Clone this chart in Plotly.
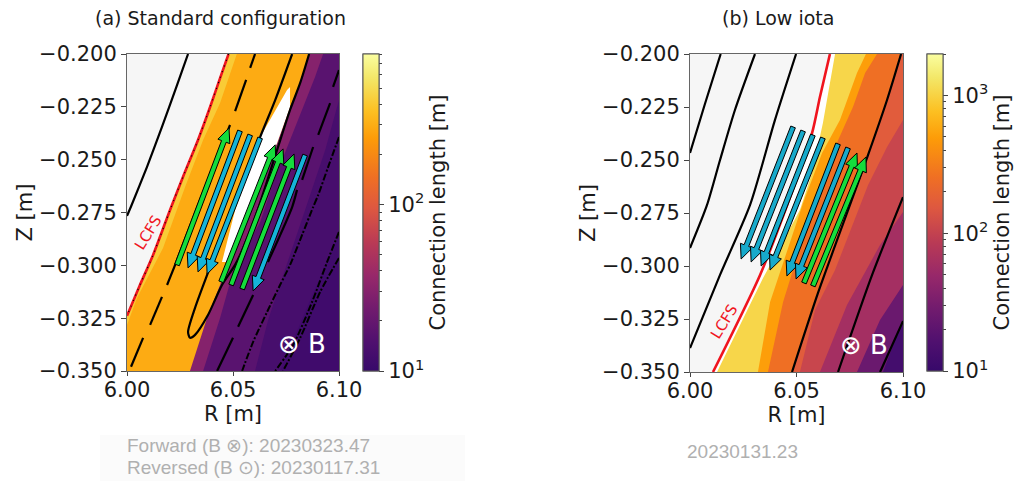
import math
import plotly.graph_objects as go
from plotly.colors import sample_colorscale

W, H = 1016, 481
FONT = "DejaVu Sans"

# ---------- shared axis data ----------
R_TICKS = [6.00, 6.05, 6.10]
R_LABELS = ["6.00", "6.05", "6.10"]
Z_TICKS = [-0.200, -0.225, -0.250, -0.275, -0.300, -0.325, -0.350]
Z_LABELS = ["\u22120.200", "\u22120.225", "\u22120.250", "\u22120.275", "\u22120.300", "\u22120.325", "\u22120.350"]
R_RANGE = [6.0, 6.1]
Z_RANGE = [-0.35, -0.2]
SCALE = [[0, "#37096a"], [.09, "#4f106f"], [.195, "#711b6e"], [.30, "#97286a"], [.405, "#b93a55"], [.515, "#de5840"],
         [.61, "#ef6f24"], [.735, "#fd9c08"], [.82, "#fcc022"], [.925, "#f3e768"], [1, "#fafea0"]]

# ---------- panel (a): connection length bands, value in metres and right-hand edge (R, Z) ----------
A_VMAX = 800
A_BASE = 11.5
A_BANDS = [
    (13, [(6.1, -.2856), (6.0864, -.3164), (6.0722, -.35)]),
    (17, [(6.1, -.2218), (6.0935, -.2454), (6.0840, -.2738), (6.0746, -.3022), (6.0666, -.3258), (6.0604, -.35)]),
    (30, [(6.0925, -.2), (6.0887, -.2109), (6.0831, -.2251), (6.0769, -.2407), (6.0694, -.2596), (6.0628, -.2795),
          (6.0500, -.3031), (6.0439, -.3249), (6.0359, -.35)]),
    (292, [(6.0859, -.2), (6.0817, -.2137), (6.0769, -.2251), (6.0708, -.2421), (6.0642, -.2563), (6.0571, -.2738),
           (6.0519, -.2870), (6.0472, -.2984), (6.0439, -.3093), (6.0382, -.3235), (6.0297, -.35)]),
    (415, [(6.0518, -.2), (6.0439, -.2232), (6.0359, -.2407), (6.0274, -.2629), (6.0170, -.2918), (6.0047, -.3154),
           (6.0, -.3282)]),
]
A_LCFS = [(6.0479, -.2), (6.0439, -.2114), (6.0392, -.2251), (6.0335, -.2407), (6.0264, -.2582), (6.0203, -.2738),
          (6.0123, -.2951), (6.0061, -.3093), (6.0, -.3239)]
A_SLIVER = [(6.0769, -.2156), (6.0769, -.2251), (6.0708, -.2421), (6.0642, -.2563), (6.0571, -.2738), (6.0519, -.2870),
            (6.0472, -.2984), (6.0448, -.2984), (6.0510, -.2738), (6.0628, -.2393), (6.0708, -.2251), (6.0755, -.2170)]
A_SOLID = [
    [(6.0288, -.2), (6.0236, -.2147), (6.0165, -.2345), (6.0094, -.2535), (6.0018, -.2724), (6.0, -.2766)],
    [(6.0779, -.2), (6.0699, -.2218), (6.0628, -.2393), (6.0533, -.2643), (6.0439, -.2880), (6.0378, -.3045),
     (6.0321, -.3201), (6.0288, -.3315), (6.0297, -.3343), (6.0321, -.3329), (6.0382, -.3235), (6.0448, -.3093),
     (6.0510, -.2998), (6.0548, -.2918), (6.0604, -.2776), (6.0708, -.2454), (6.0769, -.2265), (6.0817, -.2137),
     (6.0859, -.2)],
]
A_BROKEN = [
    [(6.0604, -.2), (6.0581, -.2066), None, (6.0562, -.2123), (6.0510, -.2270), None, (6.0486, -.2336), (6.0354, -.2667),
     (6.0227, -.2998), (6.0189, -.3093), None, (6.0165, -.3149), (6.0109, -.3282), None, (6.0076, -.3343), (6.0019, -.3480)],
    [(6.1, -.2076), (6.0972, -.2156), None, (6.0958, -.2232), (6.0902, -.2383), None, (6.0878, -.2440), (6.0826, -.2596),
     None, (6.0802, -.2643), (6.0779, -.2724), (6.0665, -.2984), None, (6.0595, -.3140), (6.0524, -.3291), None,
     (6.0500, -.3343), (6.0425, -.35)],
]
A_DOTTED = [
    [(6.1, -.2393), (6.0949, -.2534), (6.0902, -.2667), (6.0878, -.2724), (6.0826, -.2856), (6.0769, -.2998),
     (6.0722, -.3093), (6.0661, -.3220), (6.0595, -.3362), (6.0543, -.35)],
    [(6.1, -.2842), (6.0944, -.2984), (6.0873, -.3173), (6.0784, -.3376), (6.0699, -.35)],
    [(6.1, -.2965), (6.0911, -.3126), (6.0817, -.3343), (6.0736, -.35)],
]
A_GREEN = [((6.0236, -.2998), (6.0481, -.2350)), ((6.0444, -.3078), (6.0699, -.2430)),
           ((6.0491, -.3093), (6.0736, -.2449)), ((6.0543, -.3112), (6.0788, -.2473))]
A_CYAN = [((6.0533, -.2364), (6.0288, -.3012)), ((6.0581, -.2383), (6.0335, -.3031)),
          ((6.0628, -.2397), (6.0378, -.3041)), ((6.0840, -.2478), (6.0595, -.3121))]

# ---------- panel (b) ----------
B_VMAX = 2000
B_BASE = 13
B_BANDS = [
    (25, [(6.1, -.3255), (6.0962, -.3349), (6.0906, -.35)]),
    (61, [(6.1, -.3090), (6.0892, -.3255), (6.0784, -.35)]),
    (108, [(6.1, -.2745), (6.0892, -.2901), (6.0737, -.3184), (6.0610, -.35)]),
    (166, [(6.1, -.2311), (6.0925, -.2439), (6.0836, -.2618), (6.0681, -.3019), (6.0587, -.3208), (6.0516, -.35)]),
    (254, [(6.0991, -.2), (6.0925, -.2217), (6.0836, -.2476), (6.0751, -.2712), (6.0601, -.3127), (6.0479, -.35)]),
    (505, [(6.0878, -.2), (6.0822, -.2090), (6.0765, -.2250), (6.0681, -.2439), (6.0610, -.2608), (6.0484, -.3009),
           (6.0437, -.3170), (6.0366, -.35)]),
    (1058, [(6.0826, -.2), (6.0784, -.2090), (6.0704, -.2311), (6.0620, -.2467), (6.0531, -.2703), (6.0432, -.2995),
            (6.0376, -.3170), (6.0319, -.35)]),
]
B_YELLOW_LEFT = [(6.0681, -.2), (6.0624, -.2325), (6.0573, -.2561), (6.0516, -.2736), (6.0343, -.3057), (6.0127, -.35)]
B_LCFS = [(6.0657, -.2), (6.0610, -.2203), (6.0573, -.2373), (6.0470, -.2675), (6.0329, -.3042), (6.0108, -.35)]
B_SOLID = [
    [(6.0144, -.2), (6.0070, -.2236), (6.0, -.2467)],
    [(6.0305, -.2), (6.0211, -.2264), (6.0141, -.25), (6.0080, -.2712), (6.0, -.2915)],
    [(6.0498, -.2), (6.0399, -.2311), (6.0282, -.2712), (6.0141, -.3042), (6.0, -.3387)],
    [(6.0991, -.2), (6.0925, -.2217), (6.0836, -.2476), (6.0751, -.2712), (6.0601, -.3127), (6.0479, -.35)],
    [(6.1, -.2675), (6.0855, -.3042), (6.0695, -.35)],
    [(6.1, -.3260), (6.0901, -.3481), (6.0892, -.35)],
]
B_CYAN = [((6.0484, -.2344), (6.0240, -.2967)), ((6.0531, -.2363), (6.0287, -.2981)),
          ((6.0577, -.2382), (6.0334, -.3000)), ((6.0624, -.2396), (6.0376, -.3019)),
          ((6.0695, -.2424), (6.0455, -.3047)), ((6.0742, -.2443), (6.0498, -.3061))]
B_GREEN = [((6.0535, -.3080), (6.0784, -.2467)), ((6.0577, -.3094), (6.0826, -.2486))]

GREEN, CYAN_A, CYAN_B, GRAY_IN, RED = "#15dd3c", "#15b4d8", "#17aacb", "#f6f6f6", "#f0141e"
FOOT_A1 = "Forward (B \u2297): 20230323.47"
FOOT_A2 = "Reversed (B \u2299): 20230117.31"
FOOT_B = "20230131.23"
CB_MAJOR_A = [10, 100]
CB_MINOR_A = [20, 30, 40, 50, 60, 70, 80, 90, 200, 300, 400, 500, 600, 700, 800]
CB_MAJOR_B = [10, 100, 1000]
CB_MINOR_B = [20, 30, 40, 50, 60, 70, 80, 90, 200, 300, 400, 500, 600, 700, 800, 900, 2000]
CB_LABELS = {10: "10<sup>1</sup>", 100: "10<sup>2</sup>", 1000: "10<sup>3</sup>"}

fig = go.Figure()


def colour(v, vmax):
    return sample_colorscale(SCALE, [math.log(v / 10) / math.log(vmax / 10)])[0]


def split(points):
    return [p[0] if p else None for p in points], [p[1] if p else None for p in points]


def region(edge, fill, ax):
    pts = list(edge)
    if pts[0][1] < -0.2:
        pts.insert(0, (6.1, -0.2))
    if pts[-1][0] == 6.1:
        pts.append((6.1, -0.35))
    pts += [(6.0, -0.35), (6.0, -0.2)]
    x, y = split(pts)
    fig.add_trace(go.Scatter(x=x, y=y, mode="lines", fill="toself", fillcolor=fill, line=dict(width=0, color=fill),
                             hoverinfo="skip", showlegend=False, xaxis="x" + ax, yaxis="y" + ax))


def curve(points, ax, color="black", width=2.2, dash="solid"):
    x, y = split(points)
    fig.add_trace(go.Scatter(x=x, y=y, mode="lines", line=dict(color=color, width=width, dash=dash, shape="spline", smoothing=0.7),
                             hoverinfo="skip", showlegend=False, xaxis="x" + ax, yaxis="y" + ax))


def arrow(tail, tip, fill, ax):
    dx, dy = tip[0] - tail[0], tip[1] - tail[1]
    n = math.hypot(dx, dy)
    ux, uy = dx / n, dy / n
    px, py = -uy, ux
    hl, hw, sw = 0.0068, 0.0030, 0.00115
    bx, by = tip[0] - ux * hl, tip[1] - uy * hl
    pts = [(tail[0] + px * sw, tail[1] + py * sw), (bx + px * sw, by + py * sw), (bx + px * hw, by + py * hw), tip,
           (bx - px * hw, by - py * hw), (bx - px * sw, by - py * sw), (tail[0] - px * sw, tail[1] - py * sw),
           (tail[0] + px * sw, tail[1] + py * sw)]
    x, y = split(pts)
    fig.add_trace(go.Scatter(x=x, y=y, mode="lines", fill="toself", fillcolor=fill, line=dict(color="black", width=1),
                             hoverinfo="skip", showlegend=False, xaxis="x" + ax, yaxis="y" + ax))


def colourbar(ax, vmax, major, minor, px):
    bar = dict(x=px / W, xanchor="left", xpad=0, y=1 - 212.5 / H, yanchor="middle", ypad=0, lenmode="pixels", len=317,
               thicknessmode="pixels", thickness=16, outlinecolor="#555", outlinewidth=1, ticks="outside", tickwidth=1,
               tickcolor="#444", tickmode="array", tickfont=dict(family=FONT, size=21, color="#1a1a1a"))
    marker = dict(size=1, opacity=0, color=[math.log10(vmax)], cmin=1, cmax=math.log10(vmax), colorscale=SCALE,
                  showscale=True)
    fig.add_trace(go.Scatter(
        x=[6.05], y=[-0.3], mode="markers", hoverinfo="skip", showlegend=False, xaxis="x" + ax, yaxis="y" + ax,
        marker=dict(marker, colorbar=dict(bar, ticklen=5, tickvals=[math.log10(t) for t in major],
                                          ticktext=[CB_LABELS[t] for t in major],
                                          title=dict(text="Connection length [m]", side="right",
                                                     font=dict(family=FONT, size=21, color="#1a1a1a"))))))
    fig.add_trace(go.Scatter(
        x=[6.05], y=[-0.3], mode="markers", hoverinfo="skip", showlegend=False, xaxis="x" + ax, yaxis="y" + ax,
        marker=dict(marker, colorbar=dict(bar, ticklen=3, tickvals=[math.log10(t) for t in minor],
                                          showticklabels=False))))


# panel (a)
region([(6.1, -.2), (6.1, -.35)], colour(A_BASE, A_VMAX), "")
for v, e in A_BANDS:
    region(e, colour(v, A_VMAX), "")
region(A_LCFS, GRAY_IN, "")
sx, sy = split(A_SLIVER + A_SLIVER[:1])
fig.add_trace(go.Scatter(x=sx, y=sy, mode="lines", fill="toself", fillcolor="white", line=dict(width=0, color="white"),
                         hoverinfo="skip", showlegend=False, xaxis="x", yaxis="y"))
for c in A_SOLID + A_BROKEN:
    curve(c, "")
for c in A_DOTTED:
    curve(c, "", width=2, dash="7px,2px,2px,2px")
curve(A_LCFS, "", color=RED, width=2.6)
curve(A_LCFS, "", color="black", width=1.2, dash="1px,5px")
for t, h in A_GREEN:
    arrow(t, h, GREEN, "")
for t, h in A_CYAN:
    arrow(t, h, CYAN_A, "")
colourbar("", A_VMAX, CB_MAJOR_A, CB_MINOR_A, 363)

# panel (b)
region([(6.1, -.2), (6.1, -.35)], colour(B_BASE, B_VMAX), "2")
for v, e in B_BANDS:
    region(e, colour(v, B_VMAX), "2")
region(B_YELLOW_LEFT, "white", "2")
region(B_LCFS, GRAY_IN, "2")
for c in B_SOLID:
    curve(c, "2")
curve(B_LCFS, "2", color=RED, width=2.6)
for t, h in B_GREEN:
    arrow(t, h, GREEN, "2")
for t, h in B_CYAN:
    arrow(t, h, CYAN_B, "2")
colourbar("2", B_VMAX, CB_MAJOR_B, CB_MINOR_B, 927)


def xax(x0, x1, anchor):
    return dict(domain=[x0 / W, x1 / W], range=R_RANGE, anchor=anchor, tickmode="array", tickvals=R_TICKS,
                ticktext=R_LABELS, ticks="outside", ticklen=4, tickwidth=1, tickcolor="#444", showgrid=False,
                zeroline=False, showline=True, mirror=True, linecolor="#666", linewidth=1, automargin=False,
                ticklabelstandoff=-4, tickfont=dict(family=FONT, size=21, color="#1a1a1a"),
                title=dict(text="R [m]", standoff=0, font=dict(family=FONT, size=21, color="#1a1a1a")))


def yax(y0, y1, anchor):
    return dict(domain=[1 - y1 / H, 1 - y0 / H], range=Z_RANGE, anchor=anchor, tickmode="array", tickvals=Z_TICKS,
                ticktext=Z_LABELS, ticks="outside", ticklen=5, tickwidth=1, tickcolor="#444", showgrid=False,
                zeroline=False, showline=True, mirror=True, linecolor="#666", linewidth=1, automargin=False,
                tickfont=dict(family=FONT, size=21, color="#1a1a1a"),
                title=dict(text="Z [m]", standoff=0, font=dict(family=FONT, size=21, color="#1a1a1a")))


def note(text, px, py, size, color, family=FONT, angle=0, anchor="center"):
    return dict(text=text, x=px / W, y=1 - py / H, xref="paper", yref="paper", xanchor=anchor, yanchor="middle",
                showarrow=False, textangle=angle, font=dict(family=family, size=size, color=color))


fig.update_layout(
    width=W, height=H, autosize=False, margin=dict(l=0, r=0, t=0, b=0, pad=0, autoexpand=False),
    paper_bgcolor="white", plot_bgcolor="white",
    xaxis=xax(127, 339, "y"), yaxis=yax(54, 371, "x"), xaxis2=xax(690, 903, "y2"), yaxis2=yax(54, 372, "x2"),
    shapes=[dict(type="rect", xref="paper", yref="paper", x0=100 / W, x1=465 / W, y0=0, y1=1 - 435 / H,
                 fillcolor="#fbfbfb", line=dict(width=0), layer="below")],
    annotations=[
        note("(a) Standard configuration", 220, 18, 19, "#1a1a1a"),
        note("(b) Low iota", 778, 18, 19, "#1a1a1a"),
        note("LCFS", 148, 233, 15, RED, angle=-58),
        note("LCFS", 724, 322, 15, RED, angle=-58),
        note("\u2297 B", 302, 344, 26, "white"),
        note("\u2297 B", 864, 345, 26, "white"),
        note(FOOT_A1, 125, 445, 19, "#b0b0b0", "Liberation Sans", anchor="left"),
        note(FOOT_A2, 125, 467, 19, "#b0b0b0", "Liberation Sans", anchor="left"),
        note(FOOT_B, 742.5, 451, 19, "#b0b0b0", "Liberation Sans"),
    ],
)
fig.write_html("out.html", config=dict(displayModeBar=False),
               post_script="document.body.style.margin='0';document.documentElement.style.overflow='hidden';")
